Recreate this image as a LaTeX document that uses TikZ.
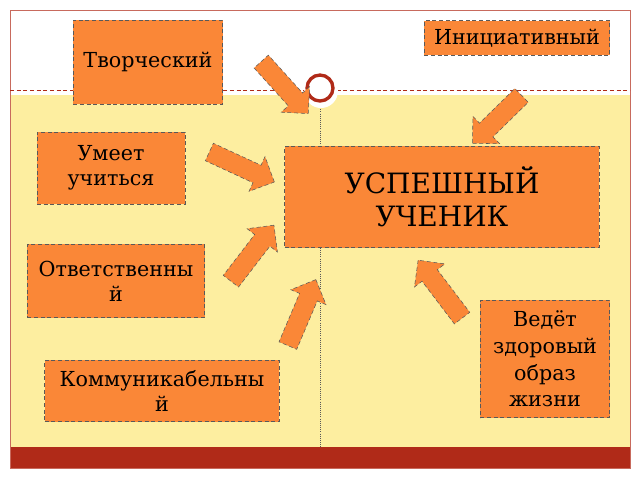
\documentclass[tikz,border=0pt]{standalone}
\usepackage{fontspec}
\setmainfont{DejaVu Serif}
\usetikzlibrary{shapes.arrows,calc}
\definecolor{org}{RGB}{250,135,55}
\definecolor{yel}{RGB}{253,238,160}
\definecolor{dred}{RGB}{176,42,24}
\tikzset{
 box/.style={draw=gray!70!black,densely dashed,line width=0.5pt,fill=org,align=center,inner sep=1pt,font=\fontsize{15.5}{19}\selectfont},
 blk/.style={single arrow,draw=gray!70!black,densely dashed,line width=0.4pt,fill=org,minimum width=27pt,inner xsep=0pt,inner ysep=7pt,single arrow head indent=0pt}
}
\newcommand{\barrow}[2]{\path let \p1=($(#2)-(#1)$), \n1={atan2(\y1,\x1)}, \n2={veclen(\x1,\y1)} in node[blk,rotate=\n1,minimum height=\n2] at ($(#1)!0.5!(#2)$) {};}
\begin{document}
\begin{tikzpicture}[x=0.75pt,y=-0.75pt]
\useasboundingbox (0,0) rectangle (640,480);
\fill[white] (0,0) rectangle (640,480);
\fill[yel] (10,95) rectangle (630,447);
\fill[dred] (10,447) rectangle (630,468);
\draw[dred!70,line width=0.4pt] (10,10) rectangle (630,468);
\draw[dred,densely dashed,line width=0.4pt] (10,90) -- (630,90);
\draw[gray!70!black,densely dotted,line width=0.6pt] (320,105) -- (320,447);
\fill[white] (321,91) circle (17);
\draw[dred,line width=2.5pt,fill=white] (320,88) circle (13);
\node[box,minimum width=112pt,minimum height=63pt] (t) at (148,62) {Творческий};
\node[box,minimum width=139pt,minimum height=26pt] (i) at (517,38) {Инициативный};
\node[box,minimum width=111pt,minimum height=54pt] (u) at (111,168) {Умеет\\учиться};
\node[box,minimum width=236pt,minimum height=76pt,font=\fontsize{21}{25}\selectfont] (s) at (442,197) {УСПЕШНЫЙ\\УЧЕНИК};
\node[box,minimum width=133pt,minimum height=55pt] (o) at (116,281) {Ответственны\\й};
\node[box,minimum width=97pt,minimum height=88pt,font=\fontsize{15.5}{20}\selectfont] (v) at (545,359) {Ведёт\\здоровый\\образ\\жизни};
\node[box,minimum width=176pt,minimum height=46pt] (k) at (162,391) {Коммуникабельны\\й};
\coordinate (a1) at (258,58); \coordinate (b1) at (305,110);
\coordinate (a2) at (525,92); \coordinate (b2) at (476,140);
\coordinate (a3) at (205,150); \coordinate (b3) at (270,180);
\coordinate (a4) at (228,285); \coordinate (b4) at (271,229);
\coordinate (a5) at (286,350); \coordinate (b5) at (314,284);
\coordinate (a6) at (465,322); \coordinate (b6) at (421,264);
\barrow{a1}{b1}\barrow{a2}{b2}\barrow{a3}{b3}\barrow{a4}{b4}\barrow{a5}{b5}\barrow{a6}{b6}
\end{tikzpicture}
\end{document}
